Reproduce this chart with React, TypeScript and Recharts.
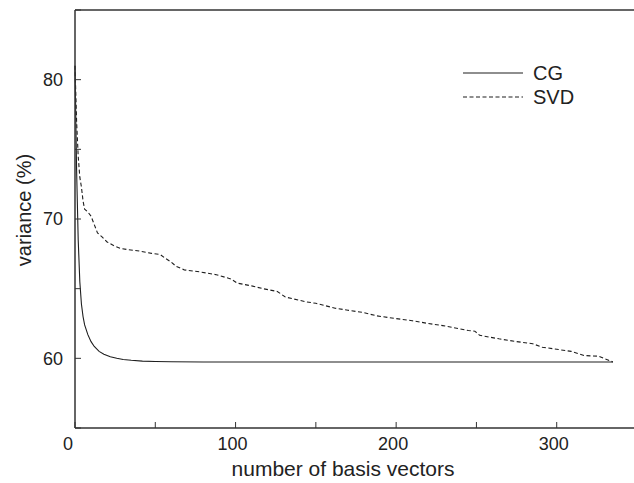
import React from 'react';
import { LineChart, Line, XAxis, YAxis, Legend, Label } from 'recharts';

const cgN = [0, 1, 2, 3, 4, 5, 6, 8, 10, 12, 15, 18, 22, 26, 30, 35, 42, 50, 60, 80, 120, 200, 335];
const cgValues = [81, 73.5, 68.5, 65.5, 63.9, 63.0, 62.4, 61.7, 61.2, 60.85, 60.5, 60.3, 60.12, 60.0, 59.92, 59.86, 59.8, 59.77, 59.75, 59.74, 59.74, 59.74, 59.74];

const svdN = [0, 1, 2, 3, 4, 5, 6, 8, 10, 12, 14, 17, 20, 24, 28, 33, 40, 47, 53, 56, 60, 63, 68, 78, 88, 97, 101, 110, 117, 126, 131, 144, 150, 162, 170, 179, 188, 200, 210, 220, 229, 245, 249, 252, 264, 275, 285, 291, 300, 309, 317, 326, 335];
const svdValues = [81, 77, 74.5, 73.0, 72.3, 71.3, 70.7, 70.5, 70.2, 69.6, 69.0, 68.7, 68.35, 68.1, 67.9, 67.8, 67.7, 67.55, 67.45, 67.2, 66.9, 66.6, 66.35, 66.2, 66.0, 65.7, 65.4, 65.2, 65.0, 64.8, 64.4, 64.05, 63.95, 63.6, 63.45, 63.3, 63.05, 62.85, 62.7, 62.5, 62.35, 62.0, 61.95, 61.65, 61.4, 61.2, 61.05, 60.8, 60.65, 60.5, 60.2, 60.15, 59.74];

const seriesNames = ['CG', 'SVD'];
const seriesDash = ['0', '4 2.5'];
const xTicks = [0, 50, 100, 150, 200, 250, 300, 350];
const yTicks = [55, 60, 65, 70, 75, 80, 85];
const xTitle = 'number of basis vectors';
const yTitle = 'variance (%)';

const cgData = cgN.map((n, i) => ({ n, v: cgValues[i] }));
const svdData = svdN.map((n, i) => ({ n, v: svdValues[i] }));

const FONT = '"Liberation Sans", Arial, Helvetica, sans-serif';
const INK = '#1e1e1e';
const AXIS = '#333';

const XTick = (props: any) => {
  const { x, y, payload } = props;
  const v = payload.value;
  if (v % 100 !== 0) return <g />;
  const dx = v === 0 ? -7 : -3;
  return (
    <text x={x + dx} y={y} dy="0.71em" textAnchor="middle" fontSize={18} fill="#222" fontFamily={FONT}>
      {v}
    </text>
  );
};

const XTitle = (props: any) => {
  const vb = props.viewBox;
  return (
    <text x={vb.x + vb.width / 2 - 13} y={vb.y + 48} textAnchor="middle" fontSize={21} fill="#222" fontFamily={FONT}>
      {xTitle}
    </text>
  );
};

const YTitle = (props: any) => {
  const vb = props.viewBox;
  const cx = 24;
  const cy = vb.y + vb.height / 2 - 9;
  return (
    <text x={cx} y={cy} dy="0.35em" textAnchor="middle" fontSize={20} fill="#222" fontFamily={FONT} transform={`rotate(-90, ${cx}, ${cy})`}>
      {yTitle}
    </text>
  );
};

const LegendContent = () => (
  <div style={{ fontFamily: FONT }}>
    {seriesNames.map((name, i) => (
      <div key={name} style={{ display: 'flex', alignItems: 'center', height: 24 }}>
        <svg width={60} height={4} style={{ display: 'block' }}>
          <line x1={0} y1={2} x2={60} y2={2} stroke={INK} strokeWidth={1.2} strokeDasharray={seriesDash[i]} />
        </svg>
        <span style={{ marginLeft: 10, fontSize: 20, color: '#222', lineHeight: '24px' }}>{name}</span>
      </div>
    ))}
  </div>
);

export default function App() {
  return (
    <div style={{ position: 'absolute', left: 0, top: 0, width: 634, height: 483, overflow: 'hidden', background: '#fff' }}>
      <LineChart width={640} height={483} margin={{ top: 9, right: 0, bottom: 0, left: 0 }}>
        <XAxis
          xAxisId="b"
          type="number"
          dataKey="n"
          domain={[0, 350]}
          ticks={xTicks}
          interval={0}
          height={55}
          tickSize={-6}
          tickMargin={15}
          tick={<XTick />}
          axisLine={{ stroke: AXIS, strokeWidth: 1.5 }}
          tickLine={{ stroke: AXIS, strokeWidth: 1 }}
        >
          <Label content={<XTitle />} />
        </XAxis>
        <XAxis
          xAxisId="t"
          orientation="top"
          type="number"
          dataKey="n"
          domain={[0, 350]}
          ticks={xTicks}
          interval={0}
          height={1}
          tickSize={-6}
          tickFormatter={() => ''}
          axisLine={{ stroke: AXIS, strokeWidth: 1.5 }}
          tickLine={{ stroke: AXIS, strokeWidth: 1 }}
        />
        <YAxis
          yAxisId="l"
          type="number"
          domain={[55, 85]}
          ticks={yTicks}
          interval={0}
          width={75}
          tickSize={-6}
          tickMargin={18}
          tickFormatter={(v: number) => (v % 10 === 0 && v >= 60 && v <= 80 ? String(v) : '')}
          tick={{ fontSize: 18, fill: '#222', fontFamily: FONT }}
          axisLine={{ stroke: AXIS, strokeWidth: 1.5 }}
          tickLine={{ stroke: AXIS, strokeWidth: 1 }}
        >
          <Label content={<YTitle />} />
        </YAxis>
        <YAxis
          yAxisId="r"
          orientation="right"
          type="number"
          domain={[55, 85]}
          ticks={yTicks}
          interval={0}
          width={3}
          tickSize={-6}
          tickFormatter={() => ''}
          axisLine={{ stroke: AXIS, strokeWidth: 1.5 }}
          tickLine={{ stroke: AXIS, strokeWidth: 1 }}
        />
        <Legend
          layout="vertical"
          align="center"
          verticalAlign="middle"
          content={<LegendContent />}
          wrapperStyle={{ position: 'absolute', left: 463, top: 61, width: 'auto' }}
        />
        <Line
          xAxisId="b"
          yAxisId="l"
          data={cgData}
          dataKey="v"
          name={seriesNames[0]}
          type="linear"
          stroke={INK}
          strokeWidth={1.1}
          dot={false}
          isAnimationActive={false}
        />
        <Line
          xAxisId="b"
          yAxisId="l"
          data={svdData}
          dataKey="v"
          name={seriesNames[1]}
          type="linear"
          stroke={INK}
          strokeWidth={1.1}
          strokeDasharray={seriesDash[1]}
          dot={false}
          isAnimationActive={false}
        />
      </LineChart>
    </div>
  );
}
